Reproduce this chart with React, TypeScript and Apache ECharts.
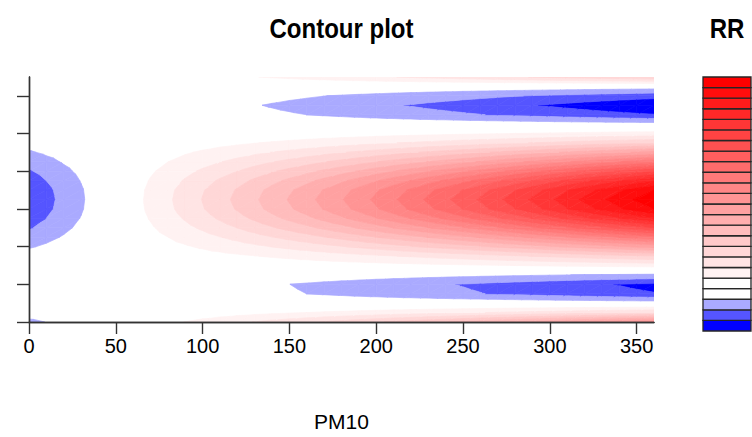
import React, { useEffect, useRef } from "react";
import * as echarts from "echarts";

// PM10 grid (x) and RR read along the central lag (the ridge of the red area)
const pm10 = [0, 10, 20, 30, 40, 50, 60, 70, 80, 90, 100, 110, 120, 130, 140, 150, 160, 170, 180, 190, 200, 210, 220, 230, 240, 250, 260, 270, 280, 290, 300, 310, 320, 330, 340, 350, 360];
const rrAtCentralLag = [0.9851, 0.9884, 0.9915, 0.9944, 0.9973, 1.0003, 1.0032, 1.0062, 1.0092, 1.0122, 1.0152, 1.0182, 1.0212, 1.0243, 1.0274, 1.0304, 1.0334, 1.0366, 1.0397, 1.0429, 1.0461, 1.0494, 1.0526, 1.0559, 1.0591, 1.0624, 1.0657, 1.0691, 1.0724, 1.0758, 1.0792, 1.0827, 1.0861, 1.0893, 1.0925, 1.0957, 1.0985];

// lag grid (y) and relative weight of the effect at each lag (1 at the ridge)
const lagDays = [0, 0.5, 1, 1.5, 2, 2.5, 3, 3.5, 4, 4.5, 5, 5.5, 6, 6.5, 7, 7.5, 8, 8.5, 9, 9.5, 10, 10.5, 11, 11.5, 12, 12.5, 13];
const lagWeight = [0.42, 0.15, -0.02, -0.15, -0.164, -0.06, 0.07, 0.2, 0.37, 0.54, 0.71, 0.86, 0.965, 1.0, 0.965, 0.86, 0.71, 0.54, 0.37, 0.2, 0.07, -0.03, -0.15, -0.195, -0.135, -0.02, 0.2];

// contour levels and fill colours (blue→white below 1, white→red above 1)
const rrLevels = [0.98, 0.985, 0.99, 0.995, 1.0, 1.005, 1.01, 1.015, 1.02, 1.025, 1.03, 1.035, 1.04, 1.045, 1.05, 1.055, 1.06, 1.065, 1.07, 1.075, 1.08, 1.085, 1.09, 1.095, 1.1];
const bandColors = [
  "#0000FF", "#5555FF", "#AAAAFF", "#FFFFFF",
  "#FFFFFF", "#FFF2F2", "#FFE4E4", "#FFD7D7", "#FFC9C9", "#FFBCBC", "#FFAEAE", "#FFA1A1",
  "#FF9494", "#FF8686", "#FF7979", "#FF6B6B", "#FF5E5E", "#FF5151", "#FF4343", "#FF3636",
  "#FF2828", "#FF1B1B", "#FF0D0D", "#FF0000",
];

const xTickValues = [0, 50, 100, 150, 200, 250, 300, 350];
const yTickValues = [0, 2, 4, 6, 8, 10, 12];

const FONT = "'Liberation Sans', Arial, Helvetica, sans-serif";

// RR table on the (pm10, lag) grid
const rrTable: number[][] = pm10.map((_, i) =>
  lagDays.map((__, j) => 1 + (rrAtCentralLag[i] - 1) * lagWeight[j])
);

type P = [number, number, number];

function clip(poly: P[], level: number, keepAbove: boolean): P[] {
  const out: P[] = [];
  const inside = (p: P) => (keepAbove ? p[2] >= level : p[2] <= level);
  for (let k = 0; k < poly.length; k++) {
    const a = poly[k];
    const b = poly[(k + 1) % poly.length];
    const ia = inside(a);
    const ib = inside(b);
    if (ia && ib) {
      out.push(b);
    } else if (ia && !ib) {
      const t = (level - a[2]) / (b[2] - a[2]);
      out.push([a[0] + t * (b[0] - a[0]), a[1] + t * (b[1] - a[1]), level]);
    } else if (!ia && ib) {
      const t = (level - a[2]) / (b[2] - a[2]);
      out.push([a[0] + t * (b[0] - a[0]), a[1] + t * (b[1] - a[1]), level]);
      out.push(b);
    }
  }
  return out;
}

export default function App() {
  const ref = useRef<HTMLDivElement>(null);

  useEffect(() => {
    if (!ref.current) return;
    const chart = echarts.init(ref.current, undefined, { renderer: "svg" });

    const cells: number[][] = [];
    for (let i = 0; i < pm10.length - 1; i++) {
      for (let j = 0; j < lagDays.length - 1; j++) {
        cells.push([pm10[i], lagDays[j], i, j]);
      }
    }

    const bandData = bandColors.map((_, k) => [0.5, rrLevels[k], k]);

    const renderCell = (params: any, api: any) => {
      const i = api.value(2);
      const j = api.value(3);
      const c00 = api.coord([pm10[i], lagDays[j]]);
      const c10 = api.coord([pm10[i + 1], lagDays[j]]);
      const c11 = api.coord([pm10[i + 1], lagDays[j + 1]]);
      const c01 = api.coord([pm10[i], lagDays[j + 1]]);
      const p00: P = [c00[0], c00[1], rrTable[i][j]];
      const p10: P = [c10[0], c10[1], rrTable[i + 1][j]];
      const p11: P = [c11[0], c11[1], rrTable[i + 1][j + 1]];
      const p01: P = [c01[0], c01[1], rrTable[i][j + 1]];
      const tris: P[][] = [
        [p00, p10, p11],
        [p00, p11, p01],
      ];
      const children: any[] = [];
      for (const tri of tris) {
        const vmin = Math.min(tri[0][2], tri[1][2], tri[2][2]);
        const vmax = Math.max(tri[0][2], tri[1][2], tri[2][2]);
        for (let k = 0; k < bandColors.length; k++) {
          const lo = rrLevels[k];
          const hi = rrLevels[k + 1];
          if (bandColors[k] === "#FFFFFF") continue;
          if (vmax < lo || vmin > hi) continue;
          let poly: P[] = tri;
          poly = clip(poly, lo, true);
          if (poly.length < 3) continue;
          poly = clip(poly, hi, false);
          if (poly.length < 3) continue;
          children.push({
            type: "polygon",
            shape: { points: poly.map((p) => [p[0], p[1]]) },
            style: { fill: bandColors[k], stroke: bandColors[k], lineWidth: 0.7 },
            silent: true,
          });
        }
      }
      return { type: "group", children };
    };

    const renderBand = (params: any, api: any) => {
      const k = api.value(2);
      const a = api.coord([0, rrLevels[k]]);
      const b = api.coord([1, rrLevels[k + 1]]);
      return {
        type: "rect",
        shape: { x: a[0], y: b[1], width: b[0] - a[0], height: a[1] - b[1] },
        style: { fill: bandColors[k], stroke: "#262626", lineWidth: 1.3 },
      };
    };

    const frameLine = { show: true, lineStyle: { color: "#333", width: 1.4 } };

    chart.setOption({
      animation: false,
      backgroundColor: "#ffffff",
      grid: [
        { left: 29, top: 77, width: 625, height: 253, containLabel: false },
        { left: 703, top: 77, width: 48, height: 254, containLabel: false },
      ],
      xAxis: [
        {
          type: "value",
          gridIndex: 0,
          min: 0,
          max: 360,
          interval: 50,
          z: 10,
          axisLine: frameLine,
          axisTick: {
            show: true,
            length: 12,
            customValues: xTickValues,
            lineStyle: { color: "#333", width: 1.4 },
          },
          axisLabel: {
            show: true,
            customValues: xTickValues,
            margin: 14,
            color: "#000",
            fontSize: 20,
            fontFamily: FONT,
          },
          splitLine: { show: false },
          name: "PM10",
          nameLocation: "middle",
          nameGap: 89,
          nameTextStyle: { color: "#000", fontSize: 21, fontFamily: FONT },
        },
        {
          type: "value",
          gridIndex: 0,
          position: "top",
          min: 0,
          max: 360,
          z: 10,
          axisLine: frameLine,
          axisTick: { show: false },
          axisLabel: { show: false },
          splitLine: { show: false },
        },
        {
          type: "value",
          gridIndex: 1,
          min: 0,
          max: 1,
          show: false,
        },
      ],
      yAxis: [
        {
          type: "value",
          gridIndex: 0,
          min: 0,
          max: 13,
          interval: 1,
          z: 10,
          axisLine: frameLine,
          axisTick: {
            show: true,
            length: 12,
            customValues: yTickValues,
            lineStyle: { color: "#333", width: 1.4 },
          },
          axisLabel: { show: false },
          splitLine: { show: false },
        },
        {
          type: "value",
          gridIndex: 0,
          position: "right",
          min: 0,
          max: 13,
          z: 10,
          axisLine: frameLine,
          axisTick: { show: false },
          axisLabel: { show: false },
          splitLine: { show: false },
        },
        {
          type: "value",
          gridIndex: 1,
          min: 0.98,
          max: 1.1,
          show: false,
        },
      ],
      graphic: [
        {
          type: "text",
          x: 341.5,
          y: 28,
          scaleX: 0.89,
          style: {
            text: "Contour plot",
            textAlign: "center",
            textVerticalAlign: "middle",
            font: `bold 27px ${FONT}`,
            fill: "#000",
          },
        },
        {
          type: "text",
          x: 727,
          y: 28,
          scaleX: 0.89,
          style: {
            text: "RR",
            textAlign: "center",
            textVerticalAlign: "middle",
            font: `bold 27px ${FONT}`,
            fill: "#000",
          },
        },
      ],
      series: [
        {
          type: "custom",
          name: "RR surface",
          coordinateSystem: "cartesian2d",
          xAxisIndex: 0,
          yAxisIndex: 0,
          z: 1,
          clip: true,
          data: cells,
          renderItem: renderCell,
          silent: true,
        },
        {
          type: "custom",
          name: "RR key",
          coordinateSystem: "cartesian2d",
          xAxisIndex: 2,
          yAxisIndex: 2,
          z: 3,
          data: bandData,
          renderItem: renderBand,
          silent: true,
        },
      ],
    });

    return () => chart.dispose();
  }, []);

  return (
    <div
      ref={ref}
      style={{ position: "absolute", left: 0, top: 0, width: 752, height: 437, background: "#fff" }}
    />
  );
}
